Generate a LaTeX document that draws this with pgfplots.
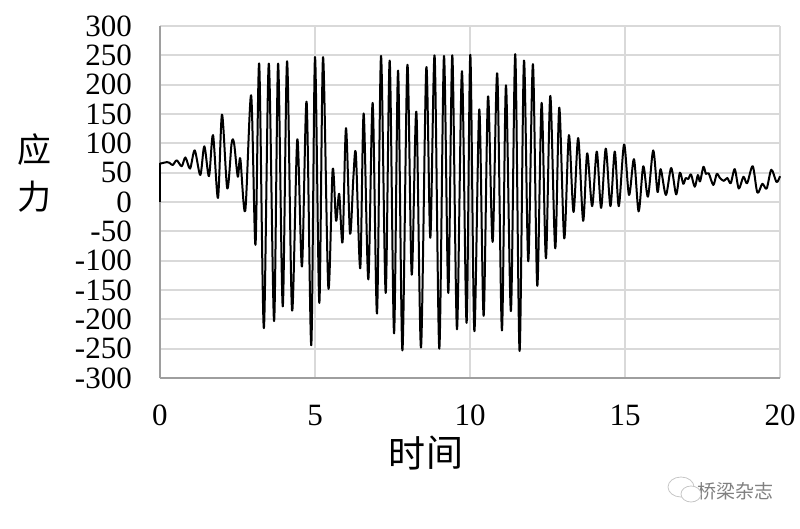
\documentclass[border=0pt]{standalone}
\usepackage{pgfplots}
\pgfplotsset{compat=1.18}
\usepackage{fontspec}
\setmainfont{Liberation Serif}
\newfontfamily\cjk{Noto Sans CJK SC}
\pgfplotstableread{
x y
0.00 66
0.05 66
0.22 68
0.30 67
0.41 63
0.54 71
0.70 61
0.82 76
0.97 57
1.12 88
1.30 46
1.43 95
1.58 44
1.71 114
1.87 7
2.00 149
2.17 23
2.31 100
2.39 100
2.51 43
2.59 74
2.75 -15
2.94 182
3.08 -73
3.20 236
3.35 -215
3.51 236
3.68 -203
3.81 236
3.96 -178
4.10 240
4.26 -185
4.43 107
4.58 -110
4.73 171
4.88 -244
5.00 247
5.14 -172
5.26 247
5.43 -146
5.57 56
5.68 -32
5.78 14
5.89 -68
6.00 126
6.13 -54
6.24 44
6.32 81
6.46 -113
6.57 151
6.72 -132
6.86 169
7.00 -190
7.13 249
7.28 -155
7.41 241
7.55 -224
7.68 224
7.82 -253
7.98 234
8.12 -124
8.27 154
8.42 -248
8.59 229
8.72 -61
8.86 249
9.01 -250
9.16 249
9.30 -155
9.43 250
9.58 -217
9.74 223
9.89 -206
10.01 251
10.14 -220
10.30 158
10.44 -194
10.58 180
10.73 -68
10.88 219
11.03 -219
11.16 199
11.32 -186
11.46 252
11.60 -254
11.74 241
11.88 -101
12.03 235
12.17 -143
12.31 169
12.45 -96
12.59 181
12.75 -79
12.88 161
13.04 -62
13.19 114
13.34 -17
13.49 109
13.65 -32
13.78 83
13.94 -7
14.09 86
14.23 -10
14.38 91
14.53 -7
14.67 86
14.80 -7
14.97 98
15.13 12
15.29 73
15.44 -16
15.59 61
15.74 9
15.91 88
16.05 17
16.15 56
16.32 12
16.49 58
16.65 13
16.77 50
16.88 31
16.96 41
17.04 39
17.13 47
17.25 26
17.35 46
17.42 35
17.53 60
17.61 48
17.70 49
17.85 29
17.96 48
18.06 41
18.19 36
18.30 41
18.41 32
18.54 56
18.67 23
18.82 43
18.94 32
19.12 61
19.27 16
19.43 31
19.57 23
19.72 55
19.89 34
20.00 44
}\stress
\begin{document}
\begin{tikzpicture}[x=1pt,y=1pt]
\useasboundingbox (-160pt,-150pt) rectangle (640pt,378pt);
\begin{axis}[
  at={(0pt,0pt)}, anchor=south west,
  scale only axis, width=620pt, height=352pt,
  xmin=0, xmax=20, ymin=-300, ymax=300,
  xtick={0,5,10,15,20}, ytick={-300,-250,...,300},
  axis x line=bottom, axis y line=left,
  axis line style={-, draw=black!38, line width=1.8pt},
  grid=major, grid style={draw=black!15, line width=1.7pt},
  major tick length=0pt,
  tick label style={font=\fontsize{31}{31}\selectfont, /pgf/number format/assume math mode=true},
  yticklabel style={anchor=east, inner sep=0pt, xshift=-28pt},
  xticklabel style={anchor=center, inner sep=0pt, yshift=-37pt},
  clip=false,
]
\addplot[black, line width=2pt, line join=round] coordinates {(0,0) (0,66)};
\addplot[black, line width=2pt, line join=round, smooth, tension=0.5] table[x=x,y=y] {\stress};
\end{axis}
\node[font=\cjk\fontsize{34}{34}\selectfont, inner sep=0pt] at (-125pt,228pt) {应};
\node[font=\cjk\fontsize{34}{34}\selectfont, inner sep=0pt] at (-125pt,181pt) {力};
\node[font=\cjk\fontsize{37}{37}\selectfont, inner sep=0pt] at (247pt,-75pt) {时};
\node[font=\cjk\fontsize{37}{37}\selectfont, inner sep=0pt] at (285pt,-75pt) {间};
\node[font=\cjk\fontsize{19}{19}\selectfont, inner sep=0pt, text=black!50] at (575pt,-113pt) {桥梁杂志};
\draw[black!22, line width=0.8pt] (521pt,-109pt) ellipse (13pt and 10pt);
\draw[black!22, line width=0.8pt, fill=white] (531pt,-116pt) ellipse (10pt and 8pt);
\end{tikzpicture}
\end{document}
